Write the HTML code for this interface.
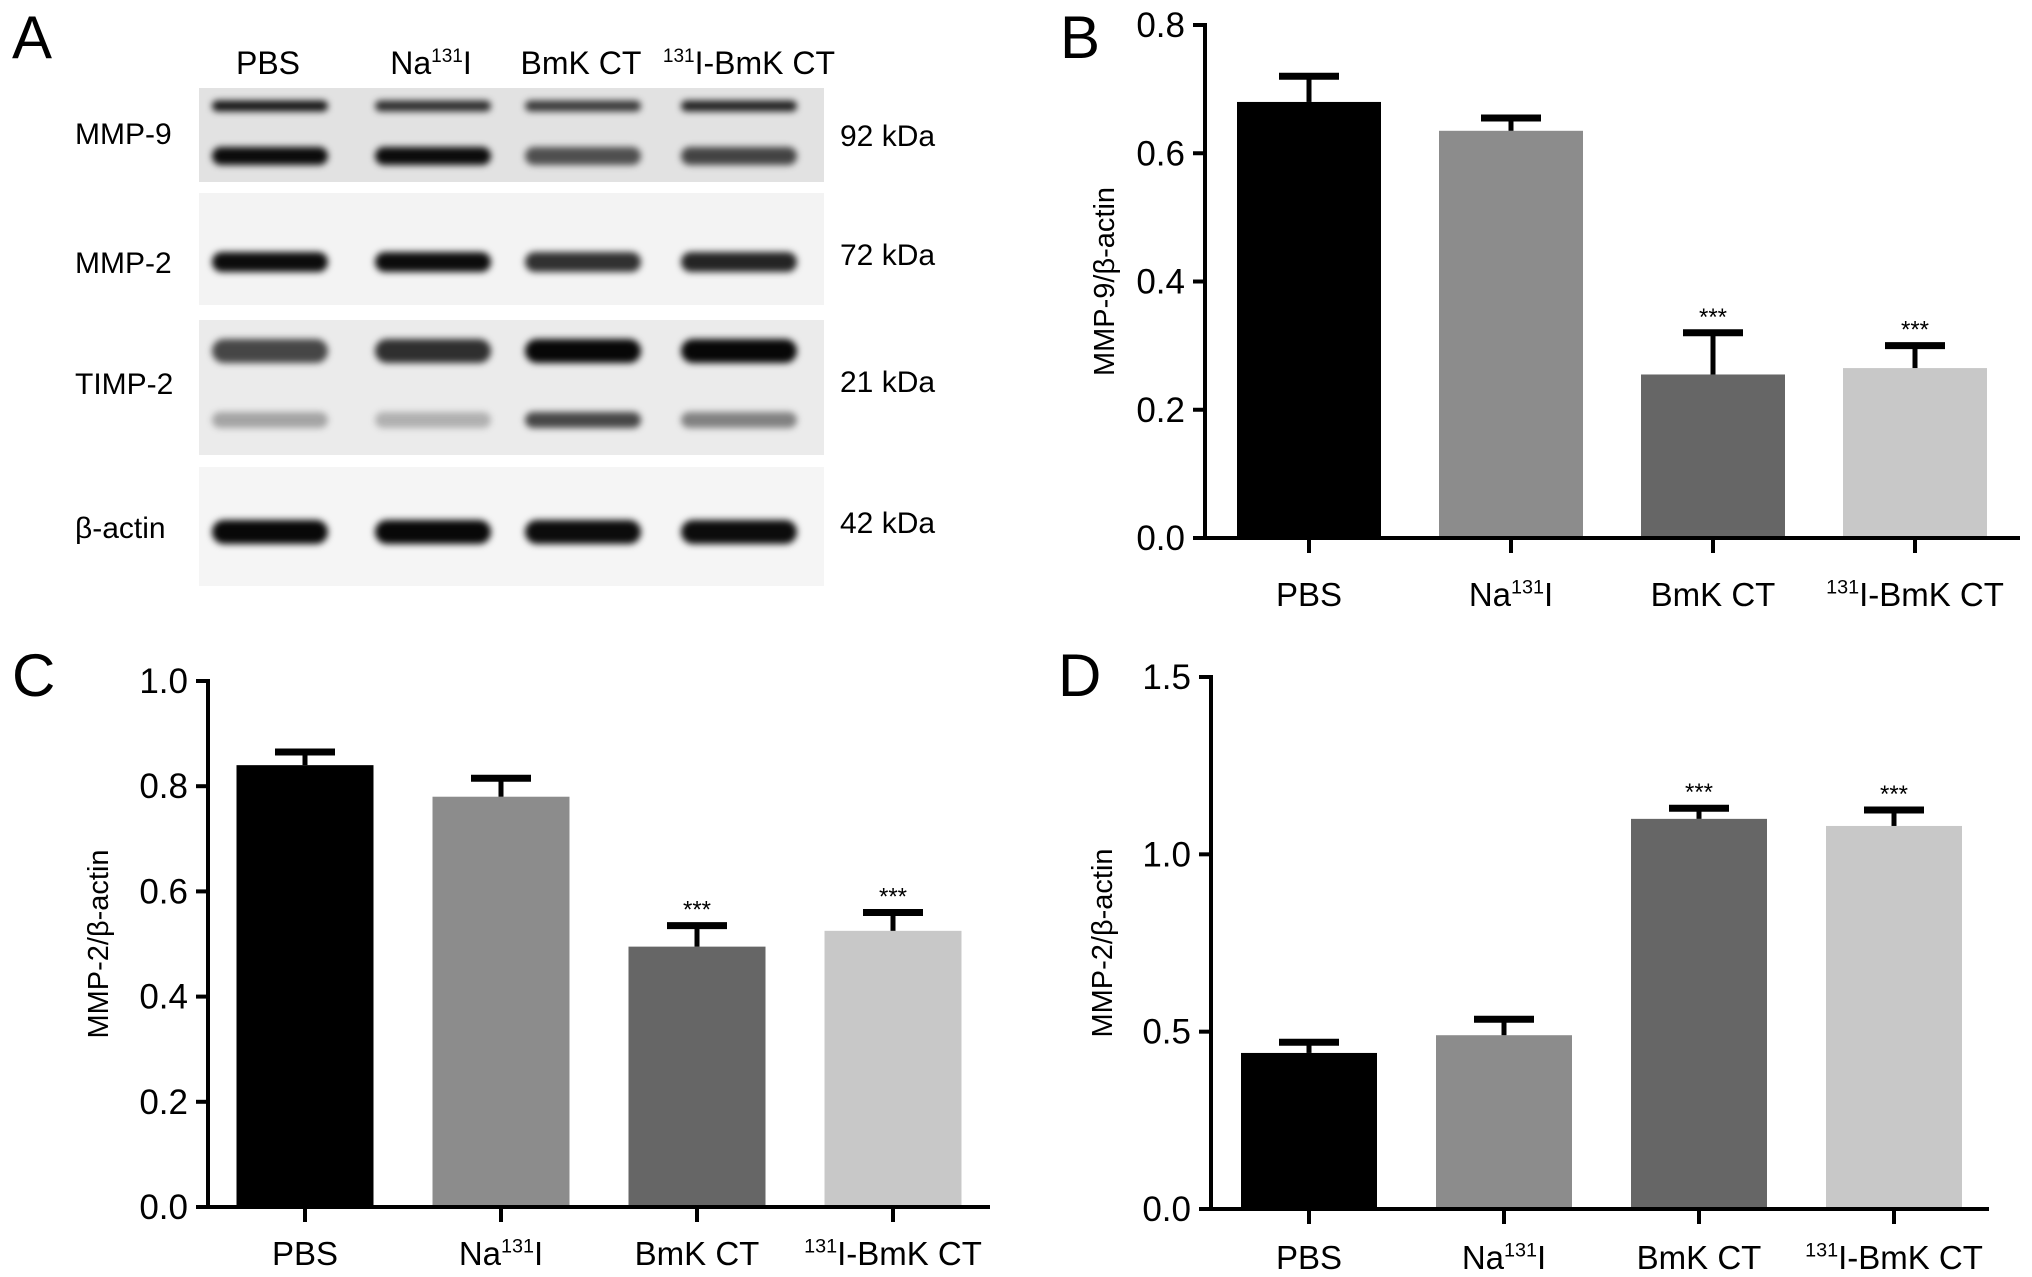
<!DOCTYPE html>
<html><head><meta charset="utf-8"><style>
html,body{margin:0;padding:0;background:#fff;}
svg{display:block;font-family:"Liberation Sans Narrow","Liberation Sans",Arial,sans-serif;}
</style></head><body>
<svg id="fig" width="2032" height="1277" viewBox="0 0 2032 1277" xmlns="http://www.w3.org/2000/svg">
<defs>
<filter id="blur" x="-20%" y="-100%" width="140%" height="300%"><feGaussianBlur stdDeviation="3.5"/></filter>
</defs>
<g id="panelA">
<text x="12" y="58" font-size="60">A</text>
<g font-size="32" text-anchor="middle">
<text x="268" y="74">PBS</text>
<text x="431" y="74">Na<tspan font-size="19" dy="-12">131</tspan><tspan dy="12">I</tspan></text>
<text x="581" y="74">BmK CT</text>
<text x="749" y="74"><tspan font-size="19" dy="-12">131</tspan><tspan dy="12">I-BmK CT</tspan></text>
</g>
<rect x="199" y="88" width="625" height="94" fill="#e2e2e2"/>
<rect x="199" y="193" width="625" height="112" fill="#f3f3f3"/>
<rect x="199" y="320" width="625" height="135" fill="#ebebeb"/>
<rect x="199" y="467" width="625" height="119" fill="#f5f5f5"/>
<g id="bands" filter="url(#blur)"></g>
<g font-size="30">
<text x="75" y="144">MMP-9</text>
<text x="75" y="273">MMP-2</text>
<text x="75" y="394">TIMP-2</text>
<text x="75" y="538">β-actin</text>
</g>
<g font-size="30">
<text x="840" y="146">92 kDa</text>
<text x="840" y="265">72 kDa</text>
<text x="840" y="392">21 kDa</text>
<text x="840" y="533">42 kDa</text>
</g>
</g>
<g id="charts"></g>
</svg>
<script>
const NS="http://www.w3.org/2000/svg";
const categories=["PBS","Na131I","BmK CT","131I-BmK CT"];
const barColors=["#000000","#8c8c8c","#666666","#c8c8c8"];
const bValues=[0.68,0.635,0.255,0.265];
const bErrors=[0.04,0.02,0.065,0.035];
const bTicks=[0.0,0.2,0.4,0.6,0.8];
const bSig=["","","***","***"];
const cValues=[0.84,0.78,0.495,0.525];
const cErrors=[0.025,0.035,0.04,0.035];
const cTicks=[0.0,0.2,0.4,0.6,0.8,1.0];
const cSig=["","","***","***"];
const dValues=[0.44,0.49,1.10,1.08];
const dErrors=[0.03,0.045,0.03,0.045];
const dTicks=[0.0,0.5,1.0,1.5];
const dSig=["","","***","***"];
const mmp9Top=[0.9,0.8,0.75,0.85];
const mmp9Low=[0.95,0.95,0.65,0.7];
const mmp2Band=[0.95,0.95,0.8,0.85];
const timp2Top=[0.7,0.8,0.97,0.97];
const timp2Low=[0.3,0.25,0.7,0.45];
const actinBand=[0.97,0.97,0.95,0.95];

function mk(tag,attrs,parent){const e=document.createElementNS(NS,tag);for(const k in attrs)e.setAttribute(k,attrs[k]);parent.appendChild(e);return e;}

const bandsG=document.getElementById('bands');
const laneX=[270,433,583,739];
function drawBands(arr,y,h,name){
  arr.forEach((v,i)=>{
    const r=mk('rect',{x:laneX[i]-58,y:y-h/2,width:116,height:h,rx:h/2,fill:'#000','fill-opacity':v},bandsG);
    
    
  });
}
drawBands(mmp9Top,106,11,'mmp9-top-band');
drawBands(mmp9Low,156,18,'mmp9-lower-band');
drawBands(mmp2Band,262,20,'mmp2-band');
drawBands(timp2Top,351,24,'timp2-top-band');
drawBands(timp2Low,420,16,'timp2-lower-band');
drawBands(actinBand,532,24,'actin-band');

function label(parent,text,x,y,size){
  const t=mk('text',{x:x,y:y,'font-size':size,'text-anchor':'middle'},parent);
  if(text.indexOf('131')>=0){
    const idx=text.indexOf('131');
    const pre=text.slice(0,idx),post=text.slice(idx+3);
    if(pre){const a=mk('tspan',{},t);a.textContent=pre;}
    const s=mk('tspan',{'font-size':size*0.6,dy:-size*0.38},t);s.textContent='131';
    const p=mk('tspan',{dy:size*0.38},t);p.textContent=post;
  } else t.textContent=text;
  return t;
}

function chart(cfg){
  const root=document.getElementById('charts');
  const g=mk('g',{},root);
  
  
  const ymax=cfg.ticks[cfg.ticks.length-1];
  const ys=v=>cfg.y0-(v/ymax)*(cfg.y0-cfg.yTop);
  const xs=i=>cfg.x0+i*cfg.step;
  const letter=mk('text',{x:cfg.lx,y:cfg.ly,'font-size':60},g);
  letter.textContent=cfg.letter;
  
  
  cfg.values.forEach((v,i)=>{
    const cx=xs(i);
    const r=mk('rect',{x:cx-cfg.bw/2,y:ys(v),width:cfg.bw,height:cfg.y0-ys(v),fill:barColors[i]},g);
    
    
    const top=ys(v+cfg.errors[i]);
    const el=mk('line',{x1:cx,x2:cx,y1:ys(v),y2:top,stroke:'#000','stroke-width':5},g);
    
    
    const cap=mk('line',{x1:cx-30,x2:cx+30,y1:top,y2:top,stroke:'#000','stroke-width':7},g);
    
    
    if(cfg.sig[i]){
      const s=mk('text',{x:cx,y:top-8,'font-size':24,'text-anchor':'middle'},g);
      s.textContent=cfg.sig[i];
      
      
    }
    const tk=mk('line',{x1:cx,x2:cx,y1:cfg.y0,y2:cfg.y0+15,stroke:'#000','stroke-width':4},g);
    
    
    const lb=label(g,categories[i],cx,cfg.catY,33);
    
    
  });
  const ya=mk('line',{x1:cfg.axX,x2:cfg.axX,y1:cfg.yTop-2,y2:cfg.y0+2,stroke:'#000','stroke-width':4},g);
  
  
  const xa=mk('line',{x1:cfg.axX-12,x2:cfg.xEnd,y1:cfg.y0,y2:cfg.y0,stroke:'#000','stroke-width':4},g);
  
  
  cfg.ticks.forEach(t=>{
    const y=ys(t);
    const l=mk('line',{x1:cfg.axX-12,x2:cfg.axX,y1:y,y2:y,stroke:'#000','stroke-width':4},g);
    
    
    const tx=mk('text',{x:cfg.axX-20,y:y+12,'font-size':35,'text-anchor':'end'},g);
    tx.textContent=t.toFixed(1);
    
    
  });
  const yt=mk('text',{x:0,y:0,'font-size':29,'text-anchor':'middle',transform:'translate('+cfg.titleX+','+((cfg.yTop+cfg.y0)/2)+') rotate(-90)'},g);
  yt.textContent=cfg.title;
  
  
}
chart({name:'chart-b-mmp9',letter:'B',lx:1060,ly:58,values:bValues,errors:bErrors,ticks:bTicks,sig:bSig,
  axX:1205,y0:538,yTop:25,x0:1309,step:202,bw:144,xEnd:2020,catY:606,titleX:1114,title:'MMP-9/β-actin'});
chart({name:'chart-c-mmp2',letter:'C',lx:12,ly:696,values:cValues,errors:cErrors,ticks:cTicks,sig:cSig,
  axX:208,y0:1207,yTop:681,x0:305,step:196,bw:137,xEnd:990,catY:1265,titleX:108,title:'MMP-2/β-actin'});
chart({name:'chart-d-mmp2',letter:'D',lx:1058,ly:696,values:dValues,errors:dErrors,ticks:dTicks,sig:dSig,
  axX:1211,y0:1209,yTop:677,x0:1309,step:195,bw:136,xEnd:1989,catY:1269,titleX:1112,title:'MMP-2/β-actin'});
</script>
</body></html>
